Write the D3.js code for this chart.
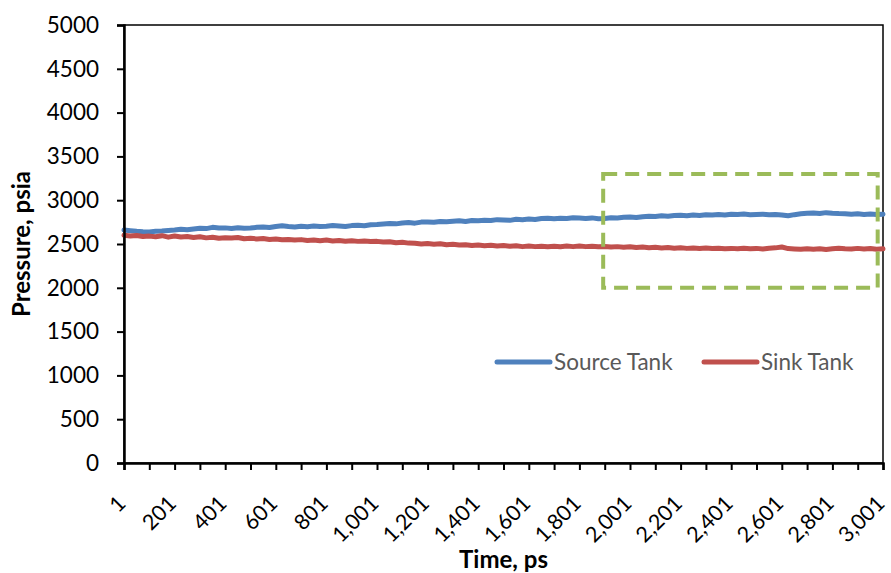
<!DOCTYPE html>
<html>
<head>
<meta charset="utf-8">
<script src="https://cdn.jsdelivr.net/npm/d3@7"></script>
<style>
    body { margin: 0; background: #fff; }
    text { font-family: Lato, "Open Sans", sans-serif; }
</style>
</head>
<body>
<div id="chart"></div>
<script>
var timeStart = 1, timeStep = 25;
var sourceTank = [
    2660, 2652, 2645, 2640, 2638, 2645, 2648, 2655,
    2660, 2668, 2662, 2672, 2680, 2676, 2690, 2682,
    2684, 2678, 2686, 2680, 2682, 2690, 2695, 2688,
    2700, 2708, 2700, 2695, 2702, 2698, 2705, 2700,
    2703, 2712, 2706, 2700, 2710, 2715, 2708, 2720,
    2722, 2728, 2735, 2730, 2740, 2745, 2738, 2750,
    2752, 2748, 2758, 2755, 2760, 2765, 2758, 2768,
    2765, 2772, 2768, 2778, 2775, 2770, 2782, 2778,
    2785, 2780, 2790, 2795, 2788, 2795, 2792, 2800,
    2796, 2790, 2798, 2788, 2792, 2800, 2796, 2805,
    2808, 2802, 2812, 2818, 2815, 2822, 2818, 2826,
    2828, 2822, 2832, 2826, 2835, 2830, 2838, 2832,
    2840, 2836, 2842, 2835, 2838, 2840, 2834, 2838,
    2832, 2822, 2835, 2845, 2850, 2855, 2848, 2858,
    2852, 2848, 2846, 2840, 2845, 2838, 2842, 2836,
    2840
];
var sinkTank = [
    2600, 2592, 2598, 2585, 2590, 2582, 2595, 2578,
    2592, 2580, 2585, 2575, 2582, 2570, 2578, 2565,
    2572, 2568, 2575, 2560, 2565, 2558, 2562, 2552,
    2558, 2548, 2552, 2545, 2550, 2540, 2546, 2538,
    2545, 2535, 2540, 2532, 2538, 2530, 2535, 2528,
    2530, 2522, 2526, 2515, 2520, 2510, 2508, 2500,
    2505, 2498, 2502, 2492, 2496, 2488, 2492, 2482,
    2488, 2480, 2485, 2476, 2482, 2474, 2480, 2470,
    2476, 2470, 2475, 2468, 2474, 2468, 2476, 2470,
    2478, 2470, 2475, 2468, 2472, 2465, 2470, 2462,
    2468, 2460, 2465, 2458, 2462, 2455, 2460, 2452,
    2458, 2450, 2455, 2448, 2455, 2448, 2452, 2446,
    2450, 2445, 2452, 2446, 2450, 2444, 2452, 2456,
    2466, 2448, 2444, 2440, 2446, 2440, 2445, 2438,
    2446, 2452, 2446, 2442, 2450, 2444, 2448, 2440,
    2445
];
var xTickLabels = ["1", "201", "401", "601", "801", "1,001", "1,201", "1,401", "1,601",
    "1,801", "2,001", "2,201", "2,401", "2,601", "2,801", "3,001"];
var yTicks = [0, 500, 1000, 1500, 2000, 2500, 3000, 3500, 4000, 4500, 5000];
var seriesNames = ["Source Tank", "Sink Tank"];
var seriesColors = ["#4F81BD", "#C0504D"];
// highlighted region: [time from, time to, pressure from, pressure to]
var zoomBox = [1895, 2980, 2000, 3300];

(function () {
    "use strict";
    var w = 891, h = 573;
    var m = {top: 25, right: 8, bottom: 110, left: 124};
    var iw = w - m.left - m.right, ih = h - m.top - m.bottom;

    var svg = d3.select('#chart').append('svg').attr('width', w).attr('height', h);
    var g = svg.append('g').attr('transform', 'translate(' + m.left + ',' + m.top + ')');

    var x = d3.scaleLinear().domain([1, 3001]).range([0, iw]);
    var y = d3.scaleLinear().domain([0, 5000]).range([ih, 0]);

    // plot frame (top + right)
    g.append('rect').attr('x', 0).attr('y', 0).attr('width', iw).attr('height', ih)
        .attr('fill', 'none').attr('stroke', '#000').attr('stroke-width', 1.5);

    var line = d3.line()
        .x(function (d, i) { return x(timeStart + i * timeStep); })
        .y(function (d) { return y(d); });

    [sourceTank, sinkTank].forEach(function (s, k) {
        g.append('path').datum(s)
            .attr('d', line)
            .attr('fill', 'none')
            .attr('stroke', seriesColors[k])
            .attr('stroke-width', 5)
            .attr('stroke-linejoin', 'round')
            .attr('stroke-linecap', 'round');
    });

    // dashed box
    g.append('rect')
        .attr('x', x(zoomBox[0])).attr('y', y(zoomBox[3]))
        .attr('width', x(zoomBox[1]) - x(zoomBox[0]))
        .attr('height', y(zoomBox[2]) - y(zoomBox[3]))
        .attr('fill', 'none').attr('stroke', '#9BBB59')
        .attr('stroke-width', 4).attr('stroke-dasharray', '14 8');

    // y axis
    var yAxis = g.append('g').call(d3.axisLeft(y).tickValues(yTicks).tickSize(7)
        .tickPadding(18).tickFormat(d3.format('d')));
    yAxis.select('.domain').attr('stroke-width', 2.5);
    yAxis.selectAll('.tick line').attr('stroke-width', 2);
    yAxis.selectAll('text').attr('font-size', 22.5).attr('fill', '#000')
        .style('font-family', 'Lato, sans-serif');

    // x axis: ticks every 100, labels every 200
    var tickVals = d3.range(1, 3002, 100);
    var xAxis = g.append('g').attr('transform', 'translate(0,' + ih + ')')
        .call(d3.axisBottom(x).tickValues(tickVals).tickSize(7).tickFormat(''));
    xAxis.select('.domain').attr('stroke-width', 2.5);
    xAxis.selectAll('.tick line').attr('stroke-width', 2);

    g.append('g').selectAll('text').data(xTickLabels).enter().append('text')
        .text(function (d) { return d; })
        .attr('text-anchor', 'end')
        .attr('font-size', 21.5)
        .attr('fill', '#000')
        .attr('transform', function (d, i) {
            return 'translate(' + (x(1 + i * 200) + 3) + ',' + (ih + 42) + ') rotate(-45)';
        });

    // axis titles
    svg.append('text').text('Pressure, psia')
        .attr('transform', 'translate(30,' + (m.top + ih / 2) + ') rotate(-90)')
        .attr('text-anchor', 'middle').attr('font-weight', 'bold').attr('font-size', 24);
    svg.append('text').text('Time, ps')
        .attr('x', m.left + iw / 2).attr('y', 568)
        .attr('text-anchor', 'middle').attr('font-weight', 'bold').attr('font-size', 24);

    // legend
    var leg = svg.append('g').attr('transform', 'translate(497,362)');
    var legX = [0, 207];
    seriesNames.forEach(function (n, k) {
        leg.append('line').attr('x1', legX[k]).attr('x2', legX[k] + 53)
            .attr('stroke', seriesColors[k]).attr('stroke-width', 5).attr('stroke-linecap', 'round');
        leg.append('text').text(n).attr('x', legX[k] + 57).attr('dy', '0.35em')
            .attr('font-size', 22.5).attr('fill', '#595959');
    });
}());
</script>
</body>
</html>
